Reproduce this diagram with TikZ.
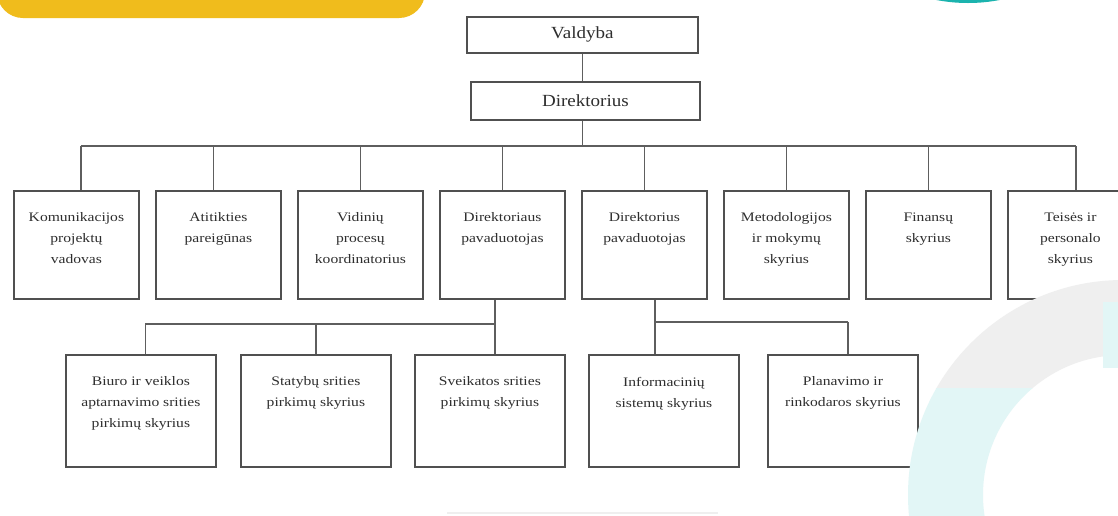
\documentclass[tikz,border=0pt]{standalone}
\usepackage{fontspec}
\setmainfont{Liberation Serif}
\newfontfamily\boxfont[FakeStretch=1.2]{Liberation Serif}
\newfontfamily\headfont[FakeStretch=1.12]{Liberation Serif}
\definecolor{yel}{HTML}{F0BC1C}
\definecolor{teal2}{HTML}{1BB3AE}
\definecolor{ringgray}{HTML}{EFEFEF}
\definecolor{ringcyan}{HTML}{E2F6F6}
\definecolor{boxline}{HTML}{505050}
\definecolor{conline}{HTML}{5E5E5E}
\definecolor{txt}{HTML}{2E2E2E}
\newcommand{\btext}[3]{\parbox[c][#2][t]{#1}{\centering\boxfont\fontsize{13}{21}\selectfont\vspace*{22pt}#3\par}}
\newcommand{\htext}[3]{\parbox[c][#2][c]{#1}{\centering\headfont\fontsize{17}{20}\selectfont #3}}
\tikzset{
  orgbox/.style={draw=boxline, line width=1.8pt, fill=white, inner sep=0pt, anchor=north west, text=txt},
  conn/.style={draw=conline, line width=1.5pt}
}
\begin{document}
\begin{tikzpicture}[x=1pt,y=-1pt]
\useasboundingbox (0,0) rectangle (1118,515);
\clip (0,0) rectangle (1118,515);
\fill[white] (0,0) rectangle (1118,515);
% decorations
\fill[yel, rounded corners=26pt] (-3,-60) rectangle (425,18);
\fill[teal2] (968,-164) circle (167pt);
\draw[line width=2pt, color=ringgray] (447,513) -- (718,513);
% top
\node[orgbox] (valdyba) at (466,16) {\htext{231pt}{36pt}{Valdyba}};
\node[orgbox] (direktorius) at (470,81) {\htext{229pt}{38pt}{Direktorius}};
% first row
\node[orgbox] (b1) at (13,190) {\btext{125pt}{108pt}{Komunikacijos\\projektų\\vadovas}};
\node[orgbox] (b2) at (155,190) {\btext{125pt}{108pt}{Atitikties\\pareigūnas}};
\node[orgbox] (b3) at (297,190) {\btext{125pt}{108pt}{Vidinių\\procesų\\koordinatorius}};
\node[orgbox] (b4) at (439,190) {\btext{125pt}{108pt}{Direktoriaus\\pavaduotojas}};
\node[orgbox] (b5) at (581,190) {\btext{125pt}{108pt}{Direktorius\\pavaduotojas}};
\node[orgbox] (b6) at (723,190) {\btext{125pt}{108pt}{Metodologijos\\ir mokymų\\skyrius}};
\node[orgbox] (b7) at (865,190) {\btext{125pt}{108pt}{Finansų\\skyrius}};
\node[orgbox] (b8) at (1007,190) {\btext{125pt}{108pt}{Teisės ir\\personalo\\skyrius}};
% second row
\node[orgbox] (c1) at (65,354) {\btext{150pt}{112pt}{Biuro ir veiklos\\aptarnavimo srities\\pirkimų skyrius}};
\node[orgbox] (c2) at (240,354) {\btext{150pt}{112pt}{Statybų srities\\pirkimų skyrius}};
\node[orgbox] (c3) at (414,354) {\btext{150pt}{112pt}{Sveikatos srities\\pirkimų skyrius}};
\node[orgbox] (c4) at (588,354) {\btext{150pt}{112pt}{Informacinių\\sistemų skyrius}};
\node[orgbox] (c5) at (767,354) {\btext{150pt}{112pt}{Planavimo ir\\rinkodaros skyrius}};
% connector levels
\coordinate (bus) at (0,146);
\coordinate (sbA) at (0,324);
\coordinate (sbB) at (0,322);
% connectors
\draw[conn] (valdyba.south) -- (valdyba.south |- direktorius.north);
\draw[conn] (valdyba.south |- direktorius.south) -- (valdyba.south |- bus);
\draw[conn] ([xshift=4.5pt]b1.north |- bus) -- ([xshift=5.5pt]b8.north |- bus);
\draw[conn] ([xshift=4.5pt]b1.north |- bus) -- ([xshift=4.5pt]b1.north);
\draw[conn] ([xshift=-5pt]b2.north |- bus) -- ([xshift=-5pt]b2.north);
\foreach \n in {b3,b4,b5,b6,b7} {
  \draw[conn] (\n.north |- bus) -- (\n.north);
}
\draw[conn] ([xshift=5.5pt]b8.north |- bus) -- ([xshift=5.5pt]b8.north);
% left group
\draw[conn] ([xshift=-7.5pt]b4.south) -- ([xshift=-7.5pt]b4.south |- c3.north);
\draw[conn] ([xshift=4.5pt]c1.north |- sbA) -- ([xshift=-7.5pt]b4.south |- sbA);
\draw[conn] ([xshift=4.5pt]c1.north |- sbA) -- ([xshift=4.5pt]c1.north);
\draw[conn] (c2.north |- sbA) -- (c2.north);
% right group
\draw[conn] ([xshift=10.5pt]b5.south) -- ([xshift=10.5pt]b5.south |- c4.north);
\draw[conn] ([xshift=10.5pt]b5.south |- sbB) -- ([xshift=5pt]c5.north |- sbB);
\draw[conn] ([xshift=5pt]c5.north |- sbB) -- ([xshift=5pt]c5.north);
% ring decoration on top
\begin{scope}
  \clip (880,0) rectangle (1118,388);
  \fill[ringgray, even odd rule] (1123,495) circle (215pt) (1123,495) circle (140pt);
\end{scope}
\begin{scope}
  \clip (880,388) rectangle (1118,515);
  \fill[ringcyan, even odd rule] (1123,495) circle (215pt) (1123,495) circle (140pt);
\end{scope}
\fill[ringcyan] (1103,302) rectangle (1118,368);
\end{tikzpicture}
\end{document}
